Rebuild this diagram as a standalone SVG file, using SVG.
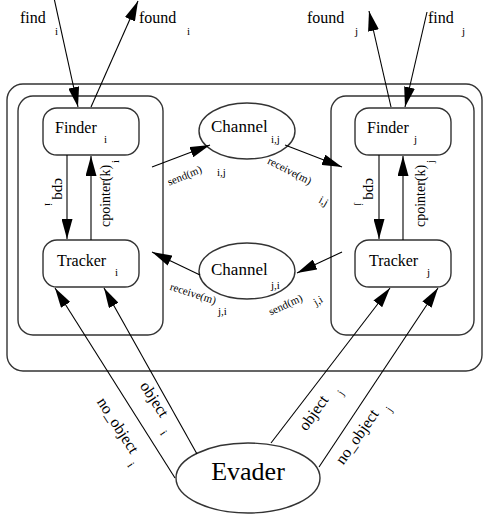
<svg xmlns="http://www.w3.org/2000/svg" width="484" height="514" viewBox="0 0 484 514" font-family="'Liberation Serif','Times New Roman',serif">
<style>
text{font-family:"Liberation Serif","Times New Roman",serif;fill:#000}
.box{fill:none;stroke:#333;stroke-width:1.4}
.node{fill:#fff;stroke:#333;stroke-width:1.4}
.e{stroke:#000;stroke-width:1.1;fill:none;marker-end:url(#ah)}
.n{font-size:16px}
.s{font-size:11px}
.l{font-size:16px}
.c{font-size:11px}
</style>
<defs>
<marker id="ah" markerWidth="20" markerHeight="11" refX="20" refY="5.5" orient="auto" markerUnits="userSpaceOnUse"><path d="M0,0 L20,5.5 L0,11 z" fill="#000"/></marker>
</defs>
<rect width="484" height="514" fill="#fff"/>
<g id="containers">
<rect class="box" x="7" y="84" width="475" height="287" rx="16"/>
<rect class="box" x="18" y="96" width="145" height="239" rx="15"/>
<rect class="box" x="331" y="96" width="143" height="239" rx="15"/>
</g>
<g id="finder_i"><rect class="node" x="43" y="108" width="96" height="47" rx="14"/><text class="n" x="55" y="133">Finder</text><text class="s" x="104" y="143">i</text></g>
<g id="tracker_i"><rect class="node" x="43" y="240" width="96" height="47" rx="14"/><text class="n" x="57" y="266">Tracker</text><text class="s" x="115" y="276">i</text></g>
<g id="finder_j"><rect class="node" x="355" y="108" width="96" height="47" rx="14"/><text class="n" x="367" y="133">Finder</text><text class="s" x="414" y="143">j</text></g>
<g id="tracker_j"><rect class="node" x="355" y="240" width="96" height="47" rx="14"/><text class="n" x="369" y="266">Tracker</text><text class="s" x="427" y="276">j</text></g>
<g id="channel_ij"><ellipse class="node" cx="247" cy="131" rx="48" ry="28"/><text x="211" y="132" font-size="17">Channel</text><text class="s" x="271" y="143">i,j</text></g>
<g id="channel_ji"><ellipse class="node" cx="247" cy="271" rx="48" ry="28"/><text x="211" y="275" font-size="17">Channel</text><text class="s" x="271" y="289">j,i</text></g>
<g id="evader"><ellipse class="node" cx="248" cy="478" rx="72" ry="35"/><text x="248" y="480" font-size="26" text-anchor="middle">Evader</text></g>
<g id="connectors">
<line class="e" x1="54" y1="-2" x2="78" y2="107"/>
<line class="e" x1="91" y1="107" x2="138" y2="1"/>
<line class="e" x1="391" y1="107" x2="369" y2="11"/>
<line class="e" x1="427" y1="12" x2="405" y2="107"/>
<line class="e" x1="67" y1="155" x2="67" y2="239"/>
<line class="e" x1="91" y1="240" x2="91" y2="156"/>
<line class="e" x1="379" y1="155" x2="379" y2="239"/>
<line class="e" x1="403" y1="240" x2="403" y2="156"/>
<line class="e" x1="152" y1="167" x2="210" y2="145"/>
<line class="e" x1="285" y1="145" x2="342" y2="167"/>
<line class="e" x1="342" y1="252" x2="297" y2="273"/>
<line class="e" x1="200" y1="275" x2="152" y2="252"/>
<line class="e" x1="175" y1="478" x2="55" y2="288"/>
<line class="e" x1="197" y1="454" x2="104" y2="288"/>
<line class="e" x1="271" y1="443" x2="390" y2="288"/>
<line class="e" x1="319" y1="467" x2="438" y2="288"/>
<text class="l" x="20" y="23">find</text><text class="s" x="55" y="35">i</text>
<text class="l" x="139" y="23">found</text><text class="s" x="187" y="35">i</text>
<text class="l" x="307" y="23">found</text><text class="s" x="355" y="35">j</text>
<text class="l" x="428" y="23">find</text><text class="s" x="462" y="35">j</text>
<g transform="translate(55,178) rotate(90)"><text font-size="15" x="0" y="0">cpq</text><text class="s" x="25" y="10">i</text></g>
<g transform="translate(110,227) rotate(-90)"><text font-size="14" x="0" y="0">cpointer(k)</text><text class="s" x="64" y="9">i</text></g>
<g transform="translate(366,178) rotate(90)"><text font-size="15" x="0" y="0">cpq</text><text class="s" x="25" y="10">j</text></g>
<g transform="translate(425,227) rotate(-90)"><text font-size="14" x="0" y="0">cpointer(k)</text><text class="s" x="64" y="9">j</text></g>
<text class="c" x="186" y="179" text-anchor="middle" transform="rotate(-22 186 179)">send(m)</text><text class="s" x="217" y="176">i,j</text>
<text class="c" x="288" y="174" text-anchor="middle" transform="rotate(27 288 174)">receive(m)</text><text class="s" x="318" y="202" transform="rotate(30 318 202)">i,j</text>
<text class="c" x="287" y="308" text-anchor="middle" transform="rotate(-25 287 308)">send(m)</text><text class="s" x="316" y="306" transform="rotate(-30 316 306)">j,i</text>
<text class="c" x="192" y="297" text-anchor="middle" transform="rotate(18 192 297)">receive(m)</text><text class="s" x="218" y="315">j,i</text>
<g transform="translate(96.4,401.8) rotate(57)"><text class="l" x="0" y="0">no_object</text><text class="s" x="70" y="9">i</text></g>
<g transform="translate(139.5,385.8) rotate(57)"><text class="l" x="0" y="0">object</text><text class="s" x="51" y="9">i</text></g>
<g transform="translate(306.6,431.8) rotate(-55)"><text class="l" x="0" y="0">object</text><text class="s" x="50" y="9">j</text></g>
<g transform="translate(343.2,465.6) rotate(-55)"><text class="l" x="0" y="0">no_object</text><text class="s" x="71" y="9">j</text></g>
</g>
</svg>
